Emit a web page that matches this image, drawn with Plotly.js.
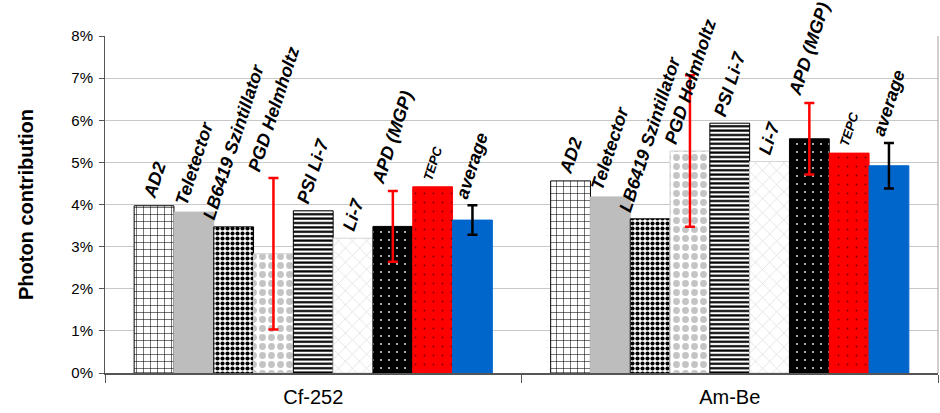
<!DOCTYPE html>
<html>
<head>
<meta charset="utf-8">
<script src="https://cdn.plot.ly/plotly-3.0.1.min.js"></script>
<style>html,body{margin:0;padding:0;background:#fff;}#chart{width:940px;height:413px;}</style>
</head>
<body>
<div id="chart"></div>
<script>
// ---- data ----
const sources = ['Cf-252', 'Am-Be'];
const instruments = ['AD2', 'Teletector', 'LB6419 Szintillator', 'PGD Helmholtz', 'PSI Li-7', 'Li-7', 'APD (MGP)', 'TEPC', 'average'];
const cf252 = [3.97, 3.82, 3.47, 2.83, 3.85, 3.20, 3.48, 4.42, 3.63];
const amBe  = [4.56, 4.18, 3.66, 5.27, 5.93, 5.02, 5.56, 5.22, 4.92];
const cf252Err = [0, 0, 0, 1.80, 0, 0, 0.84, 0, 0.35];
const amBeErr  = [0, 0, 0, 1.80, 0, 0, 0.85, 0, 0.54];
const yTicks = [0, 1, 2, 3, 4, 5, 6, 7, 8];
const yTickText = ['0%', '1%', '2%', '3%', '4%', '5%', '6%', '7%', '8%'];

// ---- styles ----
const styles = [
  {color:'#ffffff', line:'#000000', pattern:{shape:'+', fgcolor:'#000000', bgcolor:'#ffffff', size:7, solidity:0.15}},
  {color:'#bdbdbd', line:'#bdbdbd', pattern:null},
  {color:'#ffffff', line:'#000000', pattern:{shape:'.', fgcolor:'#000000', bgcolor:'#ffffff', size:5, solidity:0.55}},
  {color:'#ffffff', line:'#d0d0d0', pattern:{shape:'.', fgcolor:'#c4c4c4', bgcolor:'#ffffff', size:9, solidity:0.45}},
  {color:'#ffffff', line:'#000000', pattern:{shape:'-', fgcolor:'#000000', bgcolor:'#ffffff', size:4.4, solidity:0.5}},
  {color:'#ffffff', line:'#d6d6d6', pattern:{shape:'x', fgcolor:'#d6d6d6', bgcolor:'#ffffff', size:10, solidity:0.12}},
  {color:'#000000', line:'#000000', pattern:{shape:'.', fgcolor:'#ffffff', bgcolor:'#000000', size:8, solidity:0.04}},
  {color:'#ff0000', line:'#ff0000', pattern:{shape:'.', fgcolor:'#7a0000', bgcolor:'#ff0000', size:9, solidity:0.03}},
  {color:'#0066cc', line:'#0066cc', pattern:null}
];
const errColors = ['#000', '#000', '#000', '#ff0000', '#000', '#000', '#ff0000', '#000', '#000000'];

const bargap = 0.14;
const n = instruments.length;
const slot = (1 - bargap) / n;

const traces = instruments.map((name, i) => {
  const s = styles[i];
  const hasErr = cf252Err[i] > 0 || amBeErr[i] > 0;
  const marker = {color: s.color, line: {color: s.line, width: 1}};
  if (s.pattern) marker.pattern = Object.assign({fillmode:'replace'}, s.pattern);
  return {
    type: 'bar',
    name: name,
    x: sources,
    y: [cf252[i], amBe[i]],
    marker: marker,
    error_y: {type:'data', array:[cf252Err[i], amBeErr[i]], visible: hasErr,
              color: errColors[i], thickness: 2.5, width: 5},
    hoverinfo: 'skip'
  };
});

const annotations = [];
instruments.forEach((name, i) => {
  [cf252, amBe].forEach((vals, j) => {
    const err = (j === 0 ? cf252Err : amBeErr)[i];
    const top = vals[i] + err;
    const base = top < 6.5 ? top : vals[i];
    annotations.push({
      xref: 'x', yref: 'y',
      x: j - (1 - bargap) / 2 + (i + 0.5) * slot,
      y: base,
      text: '<b><i>' + name + '</i></b>',
      textangle: -72,
      showarrow: false,
      xanchor: 'center', yanchor: 'bottom',
      xshift: 0, yshift: 2,
      font: {family: 'Liberation Sans, Arial, sans-serif', size: name === 'TEPC' ? 13 : 18, color: '#000'}
    });
  });
});

const layout = {
  width: 940, height: 413,
  margin: {l: 105, r: 2, t: 36, b: 40},
  paper_bgcolor: '#ffffff', plot_bgcolor: '#ffffff',
  barmode: 'group', bargap: bargap, bargroupgap: 0,
  showlegend: false,
  font: {family: 'Liberation Sans, Arial, sans-serif', color: '#000'},
  xaxis: {
    type: 'category',
    showline: true, linecolor: '#555555', linewidth: 2,
    ticks: 'outside', tickson: 'boundaries', ticklen: 8, tickcolor: '#555555', tickwidth: 1,
    tickfont: {size: 20, color: '#000'},
    ticklabelstandoff: 5,
    showgrid: false, zeroline: false
  },
  yaxis: {
    range: [0, 8], tickmode: 'array', tickvals: yTicks, ticktext: yTickText,
    showline: true, linecolor: '#555555', linewidth: 1,
    ticks: 'outside', ticklen: 5, tickcolor: '#555555',
    tickfont: {size: 15, color: '#000'},
    ticklabelstandoff: 3,
    showgrid: true, gridcolor: '#c8c8c8', gridwidth: 1,
    zeroline: false,
    title: {text: '<b>Photon contribution</b>', font: {size: 20, color: '#000'}, standoff: 32}
  },
  shapes: [
    {type: 'line', xref: 'paper', yref: 'paper', x0: 1, x1: 1, y0: 0, y1: 1,
     line: {color: '#a0a0a0', width: 1}}
  ],
  annotations: annotations
};

Plotly.newPlot('chart', traces, layout, {staticPlot: true, displayModeBar: false});
</script>
</body>
</html>
